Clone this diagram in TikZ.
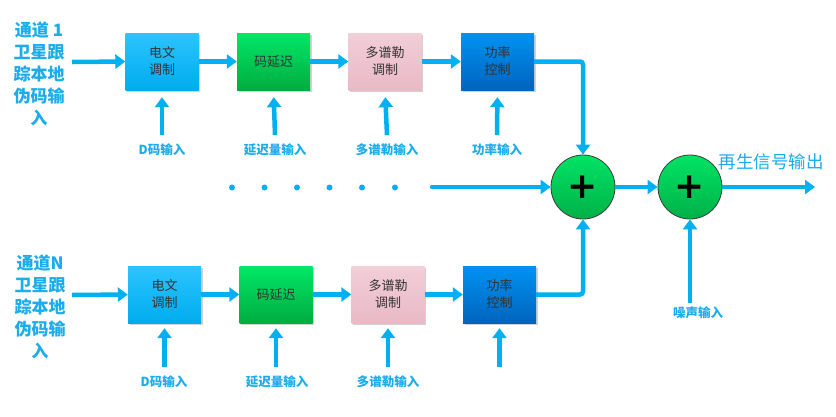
\documentclass[tikz,border=0pt]{standalone}
\usepackage{fontspec}
\newfontfamily\cjk{Noto Sans CJK SC}
\newfontfamily\plusfont{DejaVu Sans}
\usetikzlibrary{arrows.meta,shadows}
\definecolor{arrblue}{HTML}{00B0F0}
\definecolor{lblblue}{HTML}{1AACEB}
\definecolor{txtdark}{HTML}{333333}
\begin{document}
\begin{tikzpicture}[x=1pt,y=-1pt,
  arr/.style={draw=arrblue,line width=4.5pt,-{Triangle[width=14pt,length=10pt]}},
  blk/.style={minimum width=73pt,minimum height=57pt,inner sep=0pt,align=center,
    font=\cjk\fontsize{13}{17}\selectfont,text=txtdark,
    drop shadow={shadow xshift=1.5pt,shadow yshift=-1.5pt,opacity=0.35,fill=gray}},
  bA/.style={blk,top color={rgb,255:red,44;green,196;blue,255},bottom color={rgb,255:red,0;green,172;blue,238}},
  bB/.style={blk,top color={rgb,255:red,0;green,232;blue,102},bottom color={rgb,255:red,0;green,172;blue,64}},
  bC/.style={blk,top color={rgb,255:red,241;green,206;blue,216},bottom color={rgb,255:red,233;green,185;blue,198}},
  bD/.style={blk,top color={rgb,255:red,0;green,146;blue,242},bottom color={rgb,255:red,0;green,100;blue,190}},
  sumc/.style={circle,minimum size=64pt,inner sep=0pt,draw={rgb,255:red,60;green,60;blue,60},line width=0.8pt,
    top color={rgb,255:red,0;green,228;blue,100},bottom color={rgb,255:red,0;green,176;blue,72},
    font=\plusfont\bfseries\fontsize{36}{36}\selectfont},
  lbl/.style={font=\cjk\bfseries\fontsize{12.5}{14}\selectfont,text=lblblue,inner sep=0pt},
  chan/.style={font=\cjk\bfseries\fontsize{17}{22}\selectfont,text=lblblue,align=center,inner sep=0pt},
]
\useasboundingbox (0,0) rectangle (836,416);
\fill[white] (0,0) rectangle (836,416);

% channel labels
\node[chan] (ch1) at (39,74) {通道 1\\卫星跟\\踪本地\\伪码输\\入};
\node[chan] (chN) at (40,306.5) {通道N\\卫星跟\\踪本地\\伪码输\\入};

% top row
\node[bA] (a1) at (162,61.5) {电文\\调制};
\node[bB] (b1) at (273.5,61.5) {码延迟};
\node[bC] (c1) at (385,61.5) {多谱勒\\调制};
\node[bD] (d1) at (497.5,61.5) {功率\\控制};

% bottom row
\node[bA] (a2) at (164.5,294.5) {电文\\调制};
\node[bB] (b2) at (276,294.5) {码延迟};
\node[bC] (c2) at (388,294.5) {多谱勒\\调制};
\node[bD] (d2) at (499.5,294.5) {功率\\控制};

% summing nodes
\node[sumc] (s1) at (583,187) {\raisebox{-1pt}{+}};
\node[sumc] (s2) at (690,187) {\raisebox{-1pt}{+}};

% labels
\node[lbl] (la1) at (162,150) {D码输入};
\node[lbl] (lb1) at (275,150) {延迟量输入};
\node[lbl] (lc1) at (387,150) {多谱勒输入};
\node[lbl] (ld1) at (497,150) {功率输入};
\node[lbl] (la2) at (164,382) {D码输入};
\node[lbl] (lb2) at (277,382) {延迟量输入};
\node[lbl] (lc2) at (388,382) {多谱勒输入};
\node[lbl] (ln) at (698,313) {噪声输入};
\node[font=\cjk\fontsize{17.5}{20}\selectfont,text=lblblue,inner sep=0pt] (out) at (771,162) {再生信号输出};

% coordinates for free ends
\coordinate (in1) at (72,62);
\coordinate (in2) at (72,295);
\coordinate (ua1) at (162,135);
\coordinate (ub1) at (275,135);
\coordinate (uc1) at (387,135);
\coordinate (ud1) at (497,135);
\coordinate (ua2) at (164.5,367);
\coordinate (ub2) at (276,367);
\coordinate (uc2) at (388,367);
\coordinate (ud2) at (499.5,367);
\coordinate (un) at (690,303);
\coordinate (dl) at (432,187);
\coordinate (oe) at (815,187);

% dots
\foreach \x in {232,264.5,297,329.5,362,395} \fill[arrblue] (\x,187.5) circle (3pt);

% chains
\draw[arr] (in1) -- (a1.west);
\draw[arr] (a1.east) -- (b1.west);
\draw[arr] (b1.east) -- (c1.west);
\draw[arr] (c1.east) -- (d1.west);
\draw[arr,rounded corners=3pt] (d1.east) -| (s1.north);

\draw[arr] (in2) -- (a2.west);
\draw[arr] (a2.east) -- (b2.west);
\draw[arr] (b2.east) -- (c2.west);
\draw[arr] (c2.east) -- (d2.west);
\draw[arr,rounded corners=3pt] (d2.east) -| (s1.south);

% vertical inputs
\draw[arr,shorten >=7pt] (ua1) -- (a1.south);
\draw[arr,shorten >=7pt] (ub1) -- (b1.south);
\draw[arr,shorten >=7pt] (uc1) -- (c1.south);
\draw[arr,shorten >=7pt] (ud1) -- (d1.south);
\draw[arr,shorten >=5pt] (ua2) -- (a2.south);
\draw[arr,shorten >=5pt] (ub2) -- (b2.south);
\draw[arr,shorten >=5pt] (uc2) -- (c2.south);
\draw[arr,shorten >=5pt] (ud2) -- (d2.south);

% sums
\draw[arr,line cap=round] (dl) -- (s1.west);
\draw[arr] (s1.east) -- (s2.west);
\draw[arr] (un) -- (s2.south);
\draw[arr] (s2.east) -- (oe);
\end{tikzpicture}
\end{document}
